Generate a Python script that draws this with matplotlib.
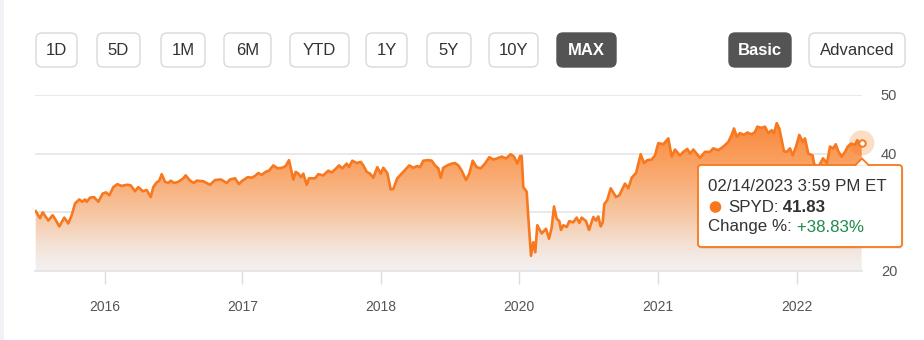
import matplotlib
matplotlib.use('Agg')
import matplotlib.pyplot as plt
import numpy as np
from matplotlib.patches import FancyBboxPatch, Rectangle, Polygon, Circle
from matplotlib.colors import LinearSegmentedColormap

plt.rcParams['font.family'] = ['Liberation Sans', 'DejaVu Sans']

# ---------------- data (x in axis units along the session axis) ----------------
x_pos = [0.7, 5, 7.7, 13.3, 17.7, 21, 24.3, 29.3, 33.3, 36.7, 40, 44.3, 47.3, 50, 51.7,
         55, 59, 63.3, 67.7, 71, 74.3, 78.3, 82.3, 86.7, 91.7, 95.7, 100, 103.3, 107.7,
         111.7, 115.7, 118.3, 121.7, 124.3, 126.7, 130, 133.3, 135.7, 139, 143.3, 148.3,
         150.7, 155, 159, 161.7, 168.3, 175, 180, 186, 191.7, 195, 200, 204, 206.7, 212.7,
         216.7, 220, 223.3, 226.7, 230.7, 234, 238.3, 242.7, 247.3, 250.7, 254, 258.3,
         260.7, 263.3, 266, 268.3, 271.7, 274, 280, 283.3, 288.3, 293.3, 296.7, 300, 304,
         307.3, 311.7, 314, 317.3, 321.7, 325.7, 328.3, 331.7, 335, 338.3, 342.3, 345.7,
         348.3, 352.3, 355.7, 358.3, 362.3, 366.7, 370, 374.3, 378.3, 382.3, 385, 388.3,
         393.3, 396.7, 400, 403.3, 405.7, 408.3, 412.3, 416.7, 420, 423.3, 426.7, 431,
         434.3, 437.7, 441.7, 445.7, 450, 454.3, 458.3, 462.3, 466.7, 471, 475.7, 479,
         482.3, 485, 486.7, 488.3, 491.7, 493.3, 496, 498.3, 500.3, 502.3, 506.7, 511,
         514, 516.7, 519, 521.7, 524.3, 526, 528.3, 531.7, 534.3, 538.3, 541.7, 544.3,
         546.7, 551, 554, 558.3, 561, 563.3, 565.7, 567.7, 569.3, 572.3, 575.7, 581,
         584.3, 590, 593.3, 596.7, 601, 605.7, 609, 612.3, 616.7, 620, 623.3, 628.3,
         633.3, 636.7, 640, 645, 648.3, 652.3, 655, 658.3, 661.7, 665, 670, 675, 678.3,
         683.3, 688.3, 693.3, 696.7, 699, 701.7, 705, 709, 712.3, 716.7, 720, 722.3,
         726.7, 730, 733.3, 736.7, 739, 741.7, 744.3, 746.7, 749, 751.7, 755, 757.7, 761,
         764.3, 767.7, 770, 773.3, 777.7, 779, 783, 788, 792, 795, 798.3, 800.7, 803.3,
         806.7, 810, 812.7, 816, 820, 822.3, 824.3, 826.7]
price = [30.2, 29.0, 30.0, 28.6, 29.5, 28.6, 27.6, 29.1, 28.1, 29.5, 31.5, 32.2, 31.8, 32.2,
         31.8, 32.5, 32.6, 31.8, 33.2, 33.4, 32.9, 34.3, 34.8, 34.5, 34.7, 34.6, 33.6, 34.3,
         33.6, 33.8, 32.6, 34.3, 35.1, 35.4, 36.5, 35.2, 35.0, 35.4, 35.0, 35.2, 35.8, 36.3,
         35.4, 35.0, 35.4, 35.3, 34.7, 35.5, 35.6, 35.0, 35.6, 35.8, 34.8, 35.3, 36.0, 35.9,
         36.2, 36.7, 36.4, 36.9, 37.1, 38.0, 37.5, 37.6, 37.9, 38.9, 35.6, 36.9, 36.6, 36.0,
         36.6, 34.7, 35.8, 35.8, 36.5, 36.3, 37.1, 36.8, 37.3, 38.0, 37.5, 38.3, 37.7, 38.8,
         38.4, 38.6, 38.0, 36.9, 36.6, 35.9, 37.7, 36.6, 37.6, 36.7, 33.9, 34.0, 35.8, 36.6,
         37.2, 38.0, 37.6, 37.9, 37.7, 38.8, 38.9, 38.8, 38.0, 37.5, 35.9, 37.6, 38.0, 38.3,
         38.4, 38.0, 37.1, 35.5, 36.6, 38.8, 37.7, 37.5, 38.3, 39.4, 39.0, 39.2, 39.5, 39.2,
         39.9, 39.5, 38.3, 39.6, 39.6, 34.3, 33.5, 29.2, 22.6, 24.9, 23.2, 27.8, 26.4, 27.2,
         25.5, 27.4, 31.0, 28.9, 28.5, 27.0, 27.8, 27.5, 28.5, 28.3, 29.1, 28.2, 29.1, 28.5,
         27.0, 29.2, 28.6, 29.3, 27.6, 28.3, 31.4, 32.1, 34.1, 32.6, 32.9, 34.9, 34.1, 35.9,
         36.7, 39.9, 38.4, 38.9, 39.0, 39.7, 41.8, 41.6, 42.6, 39.5, 40.7, 39.7, 40.3, 40.8,
         40.0, 40.7, 40.0, 39.3, 40.3, 40.3, 40.9, 40.6, 41.2, 42.0, 43.2, 44.3, 42.9, 43.5,
         43.2, 43.6, 43.3, 43.7, 44.6, 44.4, 44.6, 43.5, 44.0, 43.5, 45.2, 44.3, 42.3, 40.4,
         40.3, 40.9, 39.7, 41.2, 43.2, 42.0, 42.6, 40.0, 39.7, 38.3, 37.6, 39.2, 38.4, 41.2,
         40.9, 41.6, 40.4, 39.5, 40.3, 41.2, 41.7, 41.5, 42.3, 41.7, 41.83]

tick_pos = [70, 207.3, 346, 484.3, 623.3, 762.3]
tick_labels = ['2016', '2017', '2018', '2020', '2021', '2022']
y_ticks = [20, 30, 40, 50]
y_tick_labels = ['20', '30', '40', '50']

range_buttons = ['1D', '5D', '1M', '6M', 'YTD', '1Y', '5Y', '10Y', 'MAX']
view_buttons = ['Basic', 'Advanced']

tip_date = '02/14/2023 3:59 PM ET'
tip_symbol = 'SPYD:'
tip_price = '41.83'
tip_change_label = 'Change %:'
tip_change = '+38.83%'

ORANGE = '#f7781e'
TEXT = '#333333'
AXTEXT = '#555555'
GRID = '#e3e3e3'

# ---------------- figure ----------------
W, H = 924, 340
fig = plt.figure(figsize=(W / 100, H / 100), dpi=100)
fig.patch.set_facecolor('white')

ax = fig.add_axes([35 / W, (H - 271) / H, 827 / W, 176 / H])
ax.set_xlim(0, 827)
ax.set_ylim(20, 50)
ax.set_facecolor('white')
for s in ['top', 'left', 'right']:
    ax.spines[s].set_visible(False)
ax.spines['bottom'].set_color(GRID)
ax.spines['bottom'].set_linewidth(1.2)
ax.spines['bottom'].set_zorder(5)

ax.set_axisbelow(True)
ax.yaxis.grid(True, color=GRID, linewidth=1.1)
ax.set_yticks(y_ticks, y_tick_labels)
ax.yaxis.tick_right()
ax.tick_params(axis='y', length=0, pad=13.5, labelsize=10.5, labelcolor=AXTEXT)
ax.set_xticks(tick_pos, tick_labels)
ax.tick_params(axis='x', length=9.4, width=1.0, color='#dcdcdc', pad=11.5,
               labelsize=10, labelcolor=AXTEXT)

# gradient fill under the line
cmap = LinearSegmentedColormap.from_list('fill', [
    (0.0, '#f3f1f2'), (0.13, '#f4e4da'), (0.33, '#f6c5a0'), (0.53, '#f9ab72'),
    (0.67, '#fa9b57'), (0.87, '#f9853a'), (1.0, '#f97d2e')])
grad = np.linspace(0, 1, 256).reshape(-1, 1)
im = ax.imshow(grad, extent=[0, 827, 20, 50], origin='lower', aspect='auto',
               cmap=cmap, zorder=2)
verts = list(zip(x_pos, price)) + [(x_pos[-1], 20), (x_pos[0], 20)]
clip = Polygon(verts, closed=True, facecolor='none', edgecolor='none')
ax.add_patch(clip)
im.set_clip_path(clip)

ax.plot(x_pos, price, color=ORANGE, lw=1.9, zorder=3, solid_joinstyle='round')

# hover highlight on last point
ax.scatter([x_pos[-1]], [price[-1]], s=330, color=ORANGE, alpha=0.25,
           edgecolors='none', zorder=4, clip_on=False)
ax.scatter([x_pos[-1]], [price[-1]], s=22, facecolor='white', edgecolors=ORANGE,
           linewidths=1.4, zorder=5, clip_on=False)

# ---------------- overlay (UI chrome) ----------------
ov = fig.add_axes([0, 0, 1, 1])
ov.set_xlim(0, W)
ov.set_ylim(H, 0)
ov.axis('off')
ov.set_zorder(10)
ov.patch.set_alpha(0)

ov.add_patch(Rectangle((0, 0), 4, H, color='#f1f2f6', lw=0))

btn_spans = [(36, 77), (97, 140), (161, 205), (224, 271), (290, 349), (366, 407),
             (427, 471), (489, 538), (557, 616)]
view_spans = [(729, 791), (809, 905)]


def button(label, x0, x1, dark):
    fc = '#545454' if dark else 'white'
    ec = '#545454' if dark else '#d9d9d9'
    ov.add_patch(FancyBboxPatch((x0, 33), x1 - x0, 34,
                                boxstyle='round,pad=0,rounding_size=6',
                                fc=fc, ec=ec, lw=1.0))
    ov.text((x0 + x1) / 2, 50.5, label, ha='center', va='center', fontsize=12,
            color='white' if dark else TEXT,
            fontweight='bold' if dark else 'normal')


for lab, (a, b) in zip(range_buttons, btn_spans):
    button(lab, a, b, lab == 'MAX')
for lab, (a, b) in zip(view_buttons, view_spans):
    button(lab, a, b, lab == 'Basic')

# tooltip
ov.add_patch(FancyBboxPatch((699.5, 167), 204, 82, boxstyle='round,pad=0,rounding_size=3',
                            fc='black', alpha=0.07, lw=0))
ov.add_patch(FancyBboxPatch((698, 165), 204, 82, boxstyle='round,pad=0,rounding_size=3',
                            fc='white', ec=ORANGE, lw=1.3))
ov.add_patch(Polygon([(855.5, 165.8), (862, 158.5), (868.5, 165.8)], closed=True,
                     fc='white', ec='none'))
ov.plot([855.5, 862, 868.5], [165, 158.5, 165], color=ORANGE, lw=1.3,
        solid_joinstyle='miter')

ov.text(708, 186.5, tip_date, ha='left', va='center', fontsize=12.2, color=TEXT)
ov.add_patch(Circle((715.5, 207), 5.8, color=ORANGE, lw=0))
t2 = ov.text(728, 207, tip_symbol, ha='left', va='center', fontsize=12.2, color=TEXT)
ov.annotate(' ' + tip_price, xy=(1, 0.5), xycoords=t2, ha='left', va='center',
            fontsize=12.2, color=TEXT, fontweight='bold')
t3 = ov.text(708, 227, tip_change_label, ha='left', va='center', fontsize=12.2, color=TEXT)
ov.annotate(' ' + tip_change, xy=(1, 0.5), xycoords=t3, ha='left', va='center',
            fontsize=12.2, color='#1f8b4c')

fig.savefig('out.png', dpi=100, facecolor='white')
